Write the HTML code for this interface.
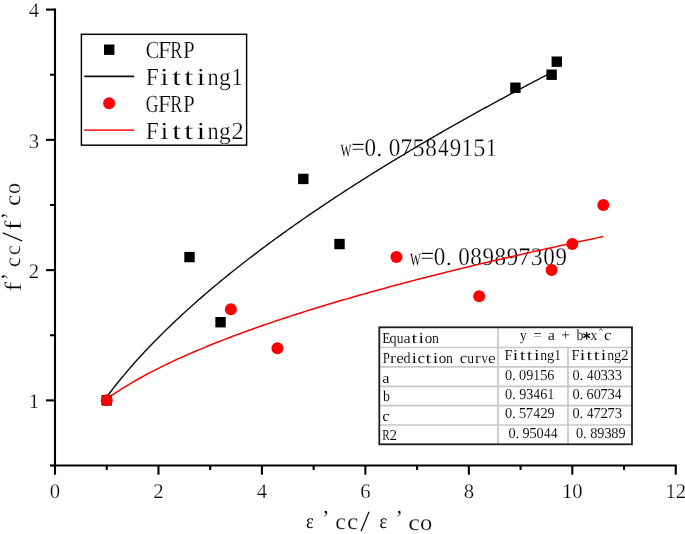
<!DOCTYPE html>
<html><head><meta charset="utf-8"><style>
html,body{margin:0;padding:0;background:#fff;width:685px;height:534px;overflow:hidden}
svg{display:block;will-change:transform;text-rendering:geometricPrecision}
</style></head><body>
<svg width="685" height="534" viewBox="0 0 685 534"><g stroke="#000" stroke-width="2.1" fill="none" stroke-linecap="butt">
<line x1="55.0" y1="8.5" x2="55.0" y2="466.5"/>
<line x1="54.0" y1="465.5" x2="676.76" y2="465.5"/>
<line x1="46.0" y1="400.37" x2="55.0" y2="400.37"/>
<line x1="46.0" y1="270.11" x2="55.0" y2="270.11"/>
<line x1="46.0" y1="139.85" x2="55.0" y2="139.85"/>
<line x1="46.0" y1="9.59" x2="55.0" y2="9.59"/>
<line x1="50.0" y1="465.50" x2="55.0" y2="465.50"/>
<line x1="50.0" y1="335.24" x2="55.0" y2="335.24"/>
<line x1="50.0" y1="204.98" x2="55.0" y2="204.98"/>
<line x1="50.0" y1="74.72" x2="55.0" y2="74.72"/>
<line x1="55.00" y1="465.5" x2="55.00" y2="474.7"/>
<line x1="158.46" y1="465.5" x2="158.46" y2="474.7"/>
<line x1="261.92" y1="465.5" x2="261.92" y2="474.7"/>
<line x1="365.38" y1="465.5" x2="365.38" y2="474.7"/>
<line x1="468.84" y1="465.5" x2="468.84" y2="474.7"/>
<line x1="572.30" y1="465.5" x2="572.30" y2="474.7"/>
<line x1="675.76" y1="465.5" x2="675.76" y2="474.7"/>
<line x1="106.73" y1="465.5" x2="106.73" y2="470.0"/>
<line x1="210.19" y1="465.5" x2="210.19" y2="470.0"/>
<line x1="313.65" y1="465.5" x2="313.65" y2="470.0"/>
<line x1="417.11" y1="465.5" x2="417.11" y2="470.0"/>
<line x1="520.57" y1="465.5" x2="520.57" y2="470.0"/>
<line x1="624.03" y1="465.5" x2="624.03" y2="470.0"/>
</g>
<g font-family='"Liberation Serif", serif' font-size="20.7" fill="#000" stroke="#fff" stroke-width="0.25" paint-order="fill"><text x="39" y="408.27" text-anchor="end">1</text><text x="39" y="278.01" text-anchor="end">2</text><text x="39" y="147.75" text-anchor="end">3</text><text x="39" y="17.49" text-anchor="end">4</text><text x="55.00" y="497.6" text-anchor="middle">0</text><text x="158.46" y="497.6" text-anchor="middle">2</text><text x="261.92" y="497.6" text-anchor="middle">4</text><text x="365.38" y="497.6" text-anchor="middle">6</text><text x="468.84" y="497.6" text-anchor="middle">8</text><text x="572.30" y="497.6" text-anchor="middle">10</text><text x="675.76" y="497.6" text-anchor="middle">12</text></g>
<g font-family='"Liberation Serif", serif' font-size="100" fill="#000" stroke="#fff" paint-order="fill"><text transform="matrix(0.1844,0,0,0.2058,306.04,527.65)" stroke-width="0.00">ε</text><text transform="matrix(0.2350,0,0,0.2297,321.68,526.23)" stroke-width="1.08">’</text><text transform="matrix(0.2400,0,0,0.2287,335.24,529.43)" stroke-width="1.07">c</text><text transform="matrix(0.2533,0,0,0.2287,346.89,529.43)" stroke-width="1.04">c</text><text transform="matrix(0.3455,0,0,0.2930,360.35,530.66)" stroke-width="0.79">/</text><text transform="matrix(0.1844,0,0,0.2058,379.44,527.65)" stroke-width="0.00">ε</text><text transform="matrix(0.2350,0,0,0.2297,395.28,526.23)" stroke-width="1.08">’</text><text transform="matrix(0.2640,0,0,0.2287,408.34,529.53)" stroke-width="1.02">c</text><text transform="matrix(0.2454,0,0,0.2287,420.12,529.53)" stroke-width="1.06">o</text></g>
<g transform="rotate(-90)" font-family='"Liberation Serif", serif' font-size="100" fill="#000" stroke="#fff" paint-order="fill"><text transform="matrix(0.2945,0,0,0.2343,-291.76,20.75)" stroke-width="0.95">f</text><text transform="matrix(0.2216,0,0,0.2492,-280.60,17.82)" stroke-width="1.06">’</text><text transform="matrix(0.2213,0,0,0.2246,-266.99,20.23)" stroke-width="1.12">c</text><text transform="matrix(0.2187,0,0,0.2246,-255.08,20.23)" stroke-width="1.13">c</text><text transform="matrix(0.3599,0,0,0.2930,-242.05,21.86)" stroke-width="0.77">/</text><text transform="matrix(0.2845,0,0,0.2386,-230.33,20.75)" stroke-width="0.96">f</text><text transform="matrix(0.2216,0,0,0.2492,-219.40,17.82)" stroke-width="1.06">’</text><text transform="matrix(0.2507,0,0,0.2266,-205.90,20.43)" stroke-width="1.05">c</text><text transform="matrix(0.2194,0,0,0.2308,-193.89,20.42)" stroke-width="1.11">o</text></g>
<g font-family='"Liberation Serif", serif' font-size="24.5" fill="#000" stroke="#fff" stroke-width="0.25" paint-order="fill"><text transform="translate(346.00,155.70) scale(0.642,1.0)" x="-8.80">w</text><text transform="translate(358.15,154.60) scale(0.989,1.0)" x="-6.92">=</text><text transform="translate(370.30,155.70) scale(0.944,1.04)" x="-6.12">0</text><text transform="translate(379.41,155.70) scale(1.000,1.0)" x="-3.06">.</text><text transform="translate(394.60,155.70) scale(0.944,1.04)" x="-6.12">0</text><text transform="translate(406.75,155.70) scale(0.987,1.04)" x="-6.58">7</text><text transform="translate(418.90,155.70) scale(0.993,1.04)" x="-6.36">5</text><text transform="translate(431.05,155.70) scale(0.944,1.04)" x="-6.12">8</text><text transform="translate(443.20,155.70) scale(0.861,1.04)" x="-6.17">4</text><text transform="translate(455.35,155.70) scale(0.937,1.04)" x="-6.02">9</text><text transform="translate(467.50,155.70) scale(0.881,1.04)" x="-6.47">1</text><text transform="translate(479.65,155.70) scale(0.993,1.04)" x="-6.36">5</text><text transform="translate(491.80,155.70) scale(0.881,1.04)" x="-6.47">1</text></g>
<g font-family='"Liberation Serif", serif' font-size="24.5" fill="#000" stroke="#fff" stroke-width="0.25" paint-order="fill"><text transform="translate(415.30,264.70) scale(0.642,1.0)" x="-8.80">w</text><text transform="translate(427.45,263.60) scale(0.989,1.0)" x="-6.92">=</text><text transform="translate(439.60,264.70) scale(0.944,1.04)" x="-6.12">0</text><text transform="translate(448.71,264.70) scale(1.000,1.0)" x="-3.06">.</text><text transform="translate(463.90,264.70) scale(0.944,1.04)" x="-6.12">0</text><text transform="translate(476.05,264.70) scale(0.944,1.04)" x="-6.12">8</text><text transform="translate(488.20,264.70) scale(0.937,1.04)" x="-6.02">9</text><text transform="translate(500.35,264.70) scale(0.944,1.04)" x="-6.12">8</text><text transform="translate(512.50,264.70) scale(0.937,1.04)" x="-6.02">9</text><text transform="translate(524.65,264.70) scale(0.987,1.04)" x="-6.58">7</text><text transform="translate(536.80,264.70) scale(0.968,1.04)" x="-6.23">3</text><text transform="translate(548.95,264.70) scale(0.944,1.04)" x="-6.12">0</text><text transform="translate(561.10,264.70) scale(0.937,1.04)" x="-6.02">9</text></g>
<path d="M106.73,396.96 L108.96,393.97 L111.19,391.04 L113.42,388.16 L115.65,385.32 L117.88,382.52 L120.11,379.77 L122.34,377.06 L124.57,374.38 L126.80,371.74 L129.03,369.14 L131.26,366.57 L133.48,364.03 L135.71,361.52 L137.94,359.04 L140.17,356.59 L142.40,354.17 L144.63,351.77 L146.86,349.40 L149.09,347.05 L151.32,344.73 L153.55,342.43 L155.78,340.15 L158.01,337.89 L160.24,335.65 L162.47,333.43 L164.70,331.24 L166.93,329.06 L169.16,326.90 L171.39,324.76 L173.62,322.63 L175.85,320.52 L178.08,318.43 L180.31,316.36 L182.54,314.30 L184.76,312.25 L186.99,310.22 L189.22,308.21 L191.45,306.20 L193.68,304.22 L195.91,302.24 L198.14,300.28 L200.37,298.34 L202.60,296.40 L204.83,294.48 L207.06,292.57 L209.29,290.67 L211.52,288.78 L213.75,286.91 L215.98,285.05 L218.21,283.19 L220.44,281.35 L222.67,279.52 L224.90,277.70 L227.13,275.89 L229.36,274.08 L231.59,272.29 L233.82,270.51 L236.04,268.74 L238.27,266.97 L240.50,265.22 L242.73,263.48 L244.96,261.74 L247.19,260.01 L249.42,258.29 L251.65,256.58 L253.88,254.88 L256.11,253.18 L258.34,251.50 L260.57,249.82 L262.80,248.15 L265.03,246.48 L267.26,244.83 L269.49,243.18 L271.72,241.54 L273.95,239.91 L276.18,238.28 L278.41,236.66 L280.64,235.05 L282.87,233.44 L285.10,231.84 L287.32,230.25 L289.55,228.66 L291.78,227.08 L294.01,225.51 L296.24,223.94 L298.47,222.38 L300.70,220.82 L302.93,219.27 L305.16,217.73 L307.39,216.19 L309.62,214.66 L311.85,213.13 L314.08,211.61 L316.31,210.10 L318.54,208.59 L320.77,207.08 L323.00,205.59 L325.23,204.09 L327.46,202.60 L329.69,201.12 L331.92,199.64 L334.15,198.17 L336.37,196.70 L338.60,195.24 L340.83,193.78 L343.06,192.33 L345.29,190.88 L347.52,189.44 L349.75,188.00 L351.98,186.56 L354.21,185.13 L356.44,183.71 L358.67,182.29 L360.90,180.87 L363.13,179.46 L365.36,178.05 L367.59,176.65 L369.82,175.25 L372.05,173.86 L374.28,172.47 L376.51,171.08 L378.74,169.70 L380.97,168.32 L383.20,166.94 L385.43,165.57 L387.65,164.21 L389.88,162.84 L392.11,161.49 L394.34,160.13 L396.57,158.78 L398.80,157.43 L401.03,156.09 L403.26,154.75 L405.49,153.41 L407.72,152.08 L409.95,150.75 L412.18,149.42 L414.41,148.10 L416.64,146.78 L418.87,145.47 L421.10,144.16 L423.33,142.85 L425.56,141.54 L427.79,140.24 L430.02,138.94 L432.25,137.65 L434.48,136.36 L436.71,135.07 L438.93,133.78 L441.16,132.50 L443.39,131.22 L445.62,129.95 L447.85,128.67 L450.08,127.40 L452.31,126.14 L454.54,124.87 L456.77,123.61 L459.00,122.36 L461.23,121.10 L463.46,119.85 L465.69,118.60 L467.92,117.36 L470.15,116.11 L472.38,114.87 L474.61,113.63 L476.84,112.40 L479.07,111.17 L481.30,109.94 L483.53,108.71 L485.76,107.49 L487.99,106.27 L490.21,105.05 L492.44,103.83 L494.67,102.62 L496.90,101.41 L499.13,100.20 L501.36,99.00 L503.59,97.79 L505.82,96.59 L508.05,95.40 L510.28,94.20 L512.51,93.01 L514.74,91.82 L516.97,90.63 L519.20,89.45 L521.43,88.26 L523.66,87.08 L525.89,85.90 L528.12,84.73 L530.35,83.56 L532.58,82.38 L534.81,81.22 L537.04,80.05 L539.27,78.89 L541.49,77.72 L543.72,76.56 L545.95,75.41 L548.18,74.25 L550.41,73.10 L552.64,71.95" fill="none" stroke="#111" stroke-width="1.45"/>
<path d="M106.73,398.98 L109.21,397.21 L111.70,395.48 L114.18,393.79 L116.66,392.13 L119.15,390.51 L121.63,388.93 L124.11,387.37 L126.59,385.84 L129.08,384.34 L131.56,382.87 L134.04,381.42 L136.53,380.00 L139.01,378.60 L141.49,377.22 L143.98,375.86 L146.46,374.52 L148.94,373.20 L151.42,371.90 L153.91,370.62 L156.39,369.35 L158.87,368.10 L161.36,366.86 L163.84,365.64 L166.32,364.44 L168.81,363.25 L171.29,362.07 L173.77,360.90 L176.26,359.75 L178.74,358.61 L181.22,357.48 L183.70,356.37 L186.19,355.26 L188.67,354.17 L191.15,353.09 L193.64,352.02 L196.12,350.95 L198.60,349.90 L201.09,348.86 L203.57,347.82 L206.05,346.80 L208.53,345.78 L211.02,344.78 L213.50,343.78 L215.98,342.79 L218.47,341.80 L220.95,340.83 L223.43,339.86 L225.92,338.90 L228.40,337.95 L230.88,337.00 L233.37,336.07 L235.85,335.14 L238.33,334.21 L240.81,333.29 L243.30,332.38 L245.78,331.48 L248.26,330.58 L250.75,329.68 L253.23,328.80 L255.71,327.92 L258.20,327.04 L260.68,326.17 L263.16,325.31 L265.64,324.45 L268.13,323.59 L270.61,322.75 L273.09,321.90 L275.58,321.06 L278.06,320.23 L280.54,319.40 L283.03,318.58 L285.51,317.76 L287.99,316.95 L290.47,316.14 L292.96,315.33 L295.44,314.53 L297.92,313.73 L300.41,312.94 L302.89,312.16 L305.37,311.37 L307.86,310.59 L310.34,309.82 L312.82,309.04 L315.31,308.28 L317.79,307.51 L320.27,306.75 L322.75,306.00 L325.24,305.24 L327.72,304.50 L330.20,303.75 L332.69,303.01 L335.17,302.27 L337.65,301.53 L340.14,300.80 L342.62,300.07 L345.10,299.35 L347.58,298.63 L350.07,297.91 L352.55,297.19 L355.03,296.48 L357.52,295.77 L360.00,295.07 L362.48,294.37 L364.97,293.67 L367.45,292.97 L369.93,292.27 L372.42,291.58 L374.90,290.89 L377.38,290.21 L379.86,289.53 L382.35,288.85 L384.83,288.17 L387.31,287.49 L389.80,286.82 L392.28,286.15 L394.76,285.49 L397.25,284.82 L399.73,284.16 L402.21,283.50 L404.69,282.85 L407.18,282.19 L409.66,281.54 L412.14,280.89 L414.63,280.24 L417.11,279.60 L419.59,278.96 L422.08,278.32 L424.56,277.68 L427.04,277.04 L429.53,276.41 L432.01,275.78 L434.49,275.15 L436.97,274.52 L439.46,273.90 L441.94,273.28 L444.42,272.66 L446.91,272.04 L449.39,271.42 L451.87,270.81 L454.36,270.20 L456.84,269.59 L459.32,268.98 L461.80,268.37 L464.29,267.77 L466.77,267.17 L469.25,266.57 L471.74,265.97 L474.22,265.37 L476.70,264.78 L479.19,264.18 L481.67,263.59 L484.15,263.00 L486.64,262.42 L489.12,261.83 L491.60,261.25 L494.08,260.66 L496.57,260.08 L499.05,259.50 L501.53,258.93 L504.02,258.35 L506.50,257.78 L508.98,257.21 L511.47,256.64 L513.95,256.07 L516.43,255.50 L518.91,254.94 L521.40,254.37 L523.88,253.81 L526.36,253.25 L528.85,252.69 L531.33,252.13 L533.81,251.58 L536.30,251.02 L538.78,250.47 L541.26,249.92 L543.75,249.37 L546.23,248.82 L548.71,248.27 L551.19,247.72 L553.68,247.18 L556.16,246.64 L558.64,246.10 L561.13,245.56 L563.61,245.02 L566.09,244.48 L568.58,243.94 L571.06,243.41 L573.54,242.88 L576.02,242.35 L578.51,241.81 L580.99,241.29 L583.47,240.76 L585.96,240.23 L588.44,239.71 L590.92,239.18 L593.41,238.66 L595.89,238.14 L598.37,237.62 L600.85,237.10 L603.34,236.58" fill="none" stroke="#f00" stroke-width="1.5"/>
<rect x="101.53" y="395.17" width="10.4" height="10.4" fill="#000"/>
<rect x="184.30" y="251.88" width="10.4" height="10.4" fill="#000"/>
<rect x="215.34" y="317.01" width="10.4" height="10.4" fill="#000"/>
<rect x="298.10" y="173.73" width="10.4" height="10.4" fill="#000"/>
<rect x="334.31" y="238.86" width="10.4" height="10.4" fill="#000"/>
<rect x="510.20" y="82.55" width="10.4" height="10.4" fill="#000"/>
<rect x="546.41" y="69.52" width="10.4" height="10.4" fill="#000"/>
<rect x="551.58" y="56.49" width="10.4" height="10.4" fill="#000"/>
<circle cx="106.73" cy="400.37" r="6" fill="#f00"/>
<circle cx="230.88" cy="309.19" r="6" fill="#f00"/>
<circle cx="277.44" cy="348.27" r="6" fill="#f00"/>
<circle cx="396.42" cy="257.08" r="6" fill="#f00"/>
<circle cx="479.19" cy="296.16" r="6" fill="#f00"/>
<circle cx="551.61" cy="270.11" r="6" fill="#f00"/>
<circle cx="572.30" cy="244.06" r="6" fill="#f00"/>
<circle cx="603.34" cy="204.98" r="6" fill="#f00"/>
<rect x="81.4" y="34.3" width="165.2" height="110.9" fill="#fff" stroke="#000" stroke-width="1.45"/>
<rect x="104.0" y="44.5" width="10.4" height="10.4" fill="#000"/>
<line x1="84.3" y1="76.4" x2="134.2" y2="76.4" stroke="#111" stroke-width="1.6"/>
<circle cx="109.1" cy="103.2" r="6" fill="#f00"/>
<line x1="84.2" y1="130.1" x2="134.2" y2="130.1" stroke="#ff3030" stroke-width="1.6"/>
<g font-family='"Liberation Serif", serif' font-size="24.5" fill="#000" stroke="#fff" stroke-width="0.25" paint-order="fill"><text transform="translate(152.30,58.30) scale(0.823,1.0)" x="-8.00">C</text><text transform="translate(164.45,58.30) scale(0.957,1.0)" x="-6.72">F</text><text transform="translate(176.60,58.30) scale(0.738,1.0)" x="-8.51">R</text><text transform="translate(188.75,58.30) scale(0.841,1.0)" x="-6.68">P</text></g>
<g font-family='"Liberation Serif", serif' font-size="24.5" fill="#000" stroke="#fff" stroke-width="0.25" paint-order="fill"><text transform="translate(152.30,84.70) scale(0.957,1.0)" x="-6.72">F</text><text transform="translate(164.45,84.70) scale(1.304,1.0)" x="-3.43">i</text><text transform="translate(176.60,84.70) scale(1.373,1.0)" x="-3.45">t</text><text transform="translate(188.75,84.70) scale(1.373,1.0)" x="-3.45">t</text><text transform="translate(200.90,84.70) scale(1.304,1.0)" x="-3.43">i</text><text transform="translate(213.05,84.70) scale(0.909,1.0)" x="-6.22">n</text><text transform="translate(225.20,84.70) scale(0.959,1.0)" x="-6.42">g</text><text transform="translate(237.35,84.70) scale(0.881,1.0)" x="-6.47">1</text></g>
<g font-family='"Liberation Serif", serif' font-size="24.5" fill="#000" stroke="#fff" stroke-width="0.25" paint-order="fill"><text transform="translate(152.30,111.60) scale(0.723,1.0)" x="-8.97">G</text><text transform="translate(164.45,111.60) scale(0.957,1.0)" x="-6.72">F</text><text transform="translate(176.60,111.60) scale(0.738,1.0)" x="-8.51">R</text><text transform="translate(188.75,111.60) scale(0.841,1.0)" x="-6.68">P</text></g>
<g font-family='"Liberation Serif", serif' font-size="24.5" fill="#000" stroke="#fff" stroke-width="0.25" paint-order="fill"><text transform="translate(152.30,138.60) scale(0.957,1.0)" x="-6.72">F</text><text transform="translate(164.45,138.60) scale(1.304,1.0)" x="-3.43">i</text><text transform="translate(176.60,138.60) scale(1.373,1.0)" x="-3.45">t</text><text transform="translate(188.75,138.60) scale(1.373,1.0)" x="-3.45">t</text><text transform="translate(200.90,138.60) scale(1.304,1.0)" x="-3.43">i</text><text transform="translate(213.05,138.60) scale(0.909,1.0)" x="-6.22">n</text><text transform="translate(225.20,138.60) scale(0.959,1.0)" x="-6.42">g</text><text transform="translate(237.35,138.60) scale(0.998,1.0)" x="-5.99">2</text></g>
<g stroke="#c8c8c8" stroke-width="1.7" fill="none">
<line x1="379.3" y1="347.5" x2="632" y2="347.5"/>
<line x1="379.3" y1="366.9" x2="632" y2="366.9"/>
<line x1="379.3" y1="386.3" x2="632" y2="386.3"/>
<line x1="379.3" y1="405.6" x2="632" y2="405.6"/>
<line x1="379.3" y1="425.0" x2="632" y2="425.0"/>
<line x1="498.0" y1="327.3" x2="498.0" y2="444.3"/>
<line x1="568.0" y1="347.5" x2="568.0" y2="444.3"/>
</g>
<rect x="379.3" y="327.3" width="252.7" height="117.0" fill="none" stroke="#1e1e1e" stroke-width="1.8"/>
<g font-family='"Liberation Serif", serif' font-size="15.2" fill="#000" stroke="#fff" stroke-width="0.08" paint-order="fill"><text transform="translate(386.10,343.30) scale(0.883,1.0)" x="-4.48">E</text><text transform="translate(393.15,343.30) scale(0.942,1.0)" x="-3.94">q</text><text transform="translate(400.20,343.30) scale(0.894,1.0)" x="-3.77">u</text><text transform="translate(407.25,343.30) scale(1.063,1.0)" x="-3.54">a</text><text transform="translate(414.30,343.30) scale(1.373,1.0)" x="-2.14">t</text><text transform="translate(421.35,343.30) scale(1.304,1.0)" x="-2.13">i</text><text transform="translate(428.40,343.30) scale(0.991,1.0)" x="-3.80">o</text><text transform="translate(435.45,343.30) scale(0.909,1.0)" x="-3.86">n</text></g>
<g font-family='"Liberation Serif", serif' font-size="15.2" fill="#000" stroke="#fff" stroke-width="0.08" paint-order="fill"><text transform="translate(386.10,363.00) scale(0.841,1.0)" x="-4.14">P</text><text transform="translate(393.15,363.00) scale(1.183,1.0)" x="-2.62">r</text><text transform="translate(400.20,363.00) scale(1.135,1.0)" x="-3.41">e</text><text transform="translate(407.25,363.00) scale(0.930,1.0)" x="-3.98">d</text><text transform="translate(414.30,363.00) scale(1.304,1.0)" x="-2.13">i</text><text transform="translate(421.35,363.00) scale(1.120,1.0)" x="-3.43">c</text><text transform="translate(428.40,363.00) scale(1.373,1.0)" x="-2.14">t</text><text transform="translate(435.45,363.00) scale(1.304,1.0)" x="-2.13">i</text><text transform="translate(442.50,363.00) scale(0.991,1.0)" x="-3.80">o</text><text transform="translate(449.55,363.00) scale(0.909,1.0)" x="-3.86">n</text><text transform="translate(463.65,363.00) scale(1.120,1.0)" x="-3.43">c</text><text transform="translate(470.70,363.00) scale(0.894,1.0)" x="-3.77">u</text><text transform="translate(477.75,363.00) scale(1.183,1.0)" x="-2.62">r</text><text transform="translate(484.80,363.00) scale(0.840,1.0)" x="-3.80">v</text><text transform="translate(491.85,363.00) scale(1.135,1.0)" x="-3.41">e</text></g>
<g font-family='"Liberation Serif", serif' font-size="15.2" fill="#000" stroke="#fff" stroke-width="0.08" paint-order="fill"><text transform="translate(386.10,382.50) scale(1.063,1.0)" x="-3.54">a</text></g>
<g font-family='"Liberation Serif", serif' font-size="15.2" fill="#000" stroke="#fff" stroke-width="0.08" paint-order="fill"><text transform="translate(386.10,401.20) scale(0.909,1.0)" x="-3.51">b</text></g>
<g font-family='"Liberation Serif", serif' font-size="15.2" fill="#000" stroke="#fff" stroke-width="0.08" paint-order="fill"><text transform="translate(386.10,420.80) scale(1.120,1.0)" x="-3.43">c</text></g>
<g font-family='"Liberation Serif", serif' font-size="15.2" fill="#000" stroke="#fff" stroke-width="0.08" paint-order="fill"><text transform="translate(386.10,440.30) scale(0.738,1.0)" x="-5.28">R</text><text transform="translate(393.15,440.30) scale(0.998,1.0)" x="-3.71">2</text></g>
<g font-family='"Liberation Serif", serif' font-size="15.2" fill="#000" stroke="#fff" stroke-width="0.08" paint-order="fill"><text transform="translate(523.30,340.20) scale(0.868,1.0)" x="-3.86">y</text><text transform="translate(537.40,340.20) scale(0.989,1.0)" x="-4.29">=</text><text transform="translate(551.50,340.20) scale(1.063,1.0)" x="-3.54">a</text><text transform="translate(565.60,340.20) scale(1.000,1.0)" x="-4.29">+</text><text transform="translate(579.70,340.20) scale(0.909,1.0)" x="-3.51">b</text></g>
<g font-family='"Liberation Serif", serif' font-size="15.2" fill="#000" stroke="#fff" stroke-width="0.08" paint-order="fill"><text transform="translate(593.80,340.20) scale(0.877,1.0)" x="-3.77">x</text></g>
<g font-family='"Liberation Serif", serif' font-size="15.2" fill="#000" stroke="#fff" stroke-width="0.08" paint-order="fill"><text transform="translate(607.90,340.20) scale(1.120,1.0)" x="-3.43">c</text></g>
<g stroke="#111" stroke-width="1.35" stroke-linecap="round"><line x1="586.70" y1="332.40" x2="586.70" y2="339.10"/><line x1="583.80" y1="334.07" x2="589.60" y2="337.43"/><line x1="589.60" y1="334.07" x2="583.80" y2="337.43"/></g>
<polyline points="599.3,330.5 600.9,328.6 602.5,330.5" fill="none" stroke="#333" stroke-width="0.9"/>
<g font-family='"Liberation Serif", serif' font-size="15.2" fill="#000" stroke="#fff" stroke-width="0.08" paint-order="fill"><text transform="translate(508.50,360.20) scale(0.957,1.0)" x="-4.17">F</text><text transform="translate(515.55,360.20) scale(1.304,1.0)" x="-2.13">i</text><text transform="translate(522.60,360.20) scale(1.373,1.0)" x="-2.14">t</text><text transform="translate(529.65,360.20) scale(1.373,1.0)" x="-2.14">t</text><text transform="translate(536.70,360.20) scale(1.304,1.0)" x="-2.13">i</text><text transform="translate(543.75,360.20) scale(0.909,1.0)" x="-3.86">n</text><text transform="translate(550.80,360.20) scale(0.959,1.0)" x="-3.98">g</text><text transform="translate(557.85,360.20) scale(0.881,1.0)" x="-4.01">1</text></g>
<g font-family='"Liberation Serif", serif' font-size="15.2" fill="#000" stroke="#fff" stroke-width="0.08" paint-order="fill"><text transform="translate(575.40,360.20) scale(0.957,1.0)" x="-4.17">F</text><text transform="translate(582.45,360.20) scale(1.304,1.0)" x="-2.13">i</text><text transform="translate(589.50,360.20) scale(1.373,1.0)" x="-2.14">t</text><text transform="translate(596.55,360.20) scale(1.373,1.0)" x="-2.14">t</text><text transform="translate(603.60,360.20) scale(1.304,1.0)" x="-2.13">i</text><text transform="translate(610.65,360.20) scale(0.909,1.0)" x="-3.86">n</text><text transform="translate(617.70,360.20) scale(0.959,1.0)" x="-3.98">g</text><text transform="translate(624.75,360.20) scale(0.998,1.0)" x="-3.71">2</text></g>
<g font-family='"Liberation Serif", serif' font-size="15.2" fill="#000" stroke="#fff" stroke-width="0.08" paint-order="fill"><text transform="translate(508.60,379.60) scale(0.944,1.0)" x="-3.80">0</text><text transform="translate(513.89,379.60) scale(1.000,1.0)" x="-1.90">.</text><text transform="translate(522.70,379.60) scale(0.944,1.0)" x="-3.80">0</text><text transform="translate(529.75,379.60) scale(0.937,1.0)" x="-3.73">9</text><text transform="translate(536.80,379.60) scale(0.881,1.0)" x="-4.01">1</text><text transform="translate(543.85,379.60) scale(0.993,1.0)" x="-3.94">5</text><text transform="translate(550.90,379.60) scale(0.936,1.0)" x="-3.90">6</text></g>
<g font-family='"Liberation Serif", serif' font-size="15.2" fill="#000" stroke="#fff" stroke-width="0.08" paint-order="fill"><text transform="translate(576.10,379.60) scale(0.944,1.0)" x="-3.80">0</text><text transform="translate(581.39,379.60) scale(1.000,1.0)" x="-1.90">.</text><text transform="translate(590.20,379.60) scale(0.861,1.0)" x="-3.83">4</text><text transform="translate(597.25,379.60) scale(0.944,1.0)" x="-3.80">0</text><text transform="translate(604.30,379.60) scale(0.968,1.0)" x="-3.87">3</text><text transform="translate(611.35,379.60) scale(0.968,1.0)" x="-3.87">3</text><text transform="translate(618.40,379.60) scale(0.968,1.0)" x="-3.87">3</text></g>
<g font-family='"Liberation Serif", serif' font-size="15.2" fill="#000" stroke="#fff" stroke-width="0.08" paint-order="fill"><text transform="translate(508.60,399.00) scale(0.944,1.0)" x="-3.80">0</text><text transform="translate(513.89,399.00) scale(1.000,1.0)" x="-1.90">.</text><text transform="translate(522.70,399.00) scale(0.937,1.0)" x="-3.73">9</text><text transform="translate(529.75,399.00) scale(0.968,1.0)" x="-3.87">3</text><text transform="translate(536.80,399.00) scale(0.861,1.0)" x="-3.83">4</text><text transform="translate(543.85,399.00) scale(0.936,1.0)" x="-3.90">6</text><text transform="translate(550.90,399.00) scale(0.881,1.0)" x="-4.01">1</text></g>
<g font-family='"Liberation Serif", serif' font-size="15.2" fill="#000" stroke="#fff" stroke-width="0.08" paint-order="fill"><text transform="translate(576.10,399.00) scale(0.944,1.0)" x="-3.80">0</text><text transform="translate(581.39,399.00) scale(1.000,1.0)" x="-1.90">.</text><text transform="translate(590.20,399.00) scale(0.936,1.0)" x="-3.90">6</text><text transform="translate(597.25,399.00) scale(0.944,1.0)" x="-3.80">0</text><text transform="translate(604.30,399.00) scale(0.987,1.0)" x="-4.08">7</text><text transform="translate(611.35,399.00) scale(0.968,1.0)" x="-3.87">3</text><text transform="translate(618.40,399.00) scale(0.861,1.0)" x="-3.83">4</text></g>
<g font-family='"Liberation Serif", serif' font-size="15.2" fill="#000" stroke="#fff" stroke-width="0.08" paint-order="fill"><text transform="translate(508.60,417.80) scale(0.944,1.0)" x="-3.80">0</text><text transform="translate(513.89,417.80) scale(1.000,1.0)" x="-1.90">.</text><text transform="translate(522.70,417.80) scale(0.993,1.0)" x="-3.94">5</text><text transform="translate(529.75,417.80) scale(0.987,1.0)" x="-4.08">7</text><text transform="translate(536.80,417.80) scale(0.861,1.0)" x="-3.83">4</text><text transform="translate(543.85,417.80) scale(0.998,1.0)" x="-3.71">2</text><text transform="translate(550.90,417.80) scale(0.937,1.0)" x="-3.73">9</text></g>
<g font-family='"Liberation Serif", serif' font-size="15.2" fill="#000" stroke="#fff" stroke-width="0.08" paint-order="fill"><text transform="translate(576.10,417.80) scale(0.944,1.0)" x="-3.80">0</text><text transform="translate(581.39,417.80) scale(1.000,1.0)" x="-1.90">.</text><text transform="translate(590.20,417.80) scale(0.861,1.0)" x="-3.83">4</text><text transform="translate(597.25,417.80) scale(0.987,1.0)" x="-4.08">7</text><text transform="translate(604.30,417.80) scale(0.998,1.0)" x="-3.71">2</text><text transform="translate(611.35,417.80) scale(0.987,1.0)" x="-4.08">7</text><text transform="translate(618.40,417.80) scale(0.968,1.0)" x="-3.87">3</text></g>
<g font-family='"Liberation Serif", serif' font-size="15.2" fill="#000" stroke="#fff" stroke-width="0.08" paint-order="fill"><text transform="translate(512.00,437.60) scale(0.944,1.0)" x="-3.80">0</text><text transform="translate(517.29,437.60) scale(1.000,1.0)" x="-1.90">.</text><text transform="translate(526.10,437.60) scale(0.937,1.0)" x="-3.73">9</text><text transform="translate(533.15,437.60) scale(0.993,1.0)" x="-3.94">5</text><text transform="translate(540.20,437.60) scale(0.944,1.0)" x="-3.80">0</text><text transform="translate(547.25,437.60) scale(0.861,1.0)" x="-3.83">4</text><text transform="translate(554.30,437.60) scale(0.861,1.0)" x="-3.83">4</text></g>
<g font-family='"Liberation Serif", serif' font-size="15.2" fill="#000" stroke="#fff" stroke-width="0.08" paint-order="fill"><text transform="translate(579.70,437.60) scale(0.944,1.0)" x="-3.80">0</text><text transform="translate(584.99,437.60) scale(1.000,1.0)" x="-1.90">.</text><text transform="translate(593.80,437.60) scale(0.944,1.0)" x="-3.80">8</text><text transform="translate(600.85,437.60) scale(0.937,1.0)" x="-3.73">9</text><text transform="translate(607.90,437.60) scale(0.968,1.0)" x="-3.87">3</text><text transform="translate(614.95,437.60) scale(0.944,1.0)" x="-3.80">8</text><text transform="translate(622.00,437.60) scale(0.937,1.0)" x="-3.73">9</text></g></svg>
</body></html>
